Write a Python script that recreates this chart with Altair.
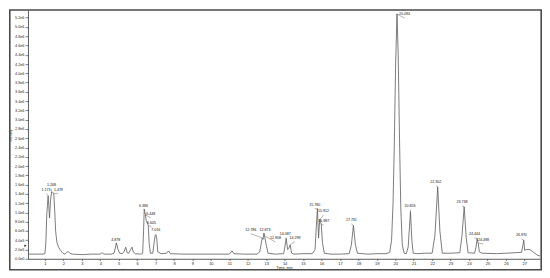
import altair as alt
import pandas as pd

# ---- trace (time in min, intensity in millions of counts) ----
trace_time = [0.1, 0.5, 0.9, 1.0, 1.05, 1.10, 1.173, 1.21, 1.25, 1.30, 1.36, 1.42, 1.479, 1.53, 1.58,
              1.65, 1.75, 1.85, 1.95, 2.05, 2.15, 2.25, 2.35, 2.5, 3.0, 3.5, 4.0, 4.1, 4.2, 4.6,
              4.75, 4.878, 4.95, 5.05, 5.2, 5.3, 5.38, 5.46, 5.55, 5.65, 5.72, 5.8, 5.9, 6.2, 6.3,
              6.35, 6.386, 6.448, 6.5, 6.56, 6.605, 6.65, 6.72, 6.85, 6.93, 6.98, 7.016, 7.06, 7.12,
              7.3, 7.6, 7.7, 7.8, 8.5, 9.5, 10.5, 11.0, 11.15, 11.25, 11.8, 12.5, 12.65, 12.786,
              12.83, 12.873, 12.908, 13.0, 13.1, 13.5, 13.95, 14.03, 14.087, 14.16, 14.22, 14.299,
              14.38, 14.5, 15.0, 15.5, 15.65, 15.72, 15.78, 15.84, 15.88, 15.912, 15.95, 15.987,
              16.05, 16.15, 16.5, 17.0, 17.5, 17.62, 17.731, 17.84, 17.95, 18.5, 19.0, 19.5, 19.7,
              19.8, 19.88, 19.95, 20.02, 20.094, 20.16, 20.23, 20.3, 20.38, 20.48, 20.6, 20.7,
              20.826, 20.9, 20.97, 21.2, 21.6, 22.0, 22.15, 22.302, 22.42, 22.55, 23.0, 23.5,
              23.62, 23.738, 23.85, 23.95, 24.3, 24.38, 24.444, 24.47, 24.498, 24.56, 24.7, 25.5,
              26.0, 26.5, 26.85, 26.92, 26.97, 27.02, 27.1, 27.3, 27.5, 27.7, 27.85]
trace_intensity = [0.10, 0.10, 0.10, 0.11, 0.35, 0.95, 1.36, 1.15, 0.88, 1.25, 1.44, 1.43, 1.41, 1.05, 0.60,
                   0.35, 0.24, 0.18, 0.13, 0.10, 0.12, 0.16, 0.12, 0.10, 0.09, 0.10, 0.10, 0.13, 0.10, 0.10,
                   0.12, 0.34, 0.22, 0.12, 0.11, 0.16, 0.25, 0.13, 0.12, 0.20, 0.25, 0.14, 0.11, 0.10, 0.12,
                   0.60, 1.07, 0.95, 0.82, 0.76, 0.72, 0.35, 0.12, 0.12, 0.38, 0.50, 0.52, 0.45, 0.15,
                   0.11, 0.12, 0.17, 0.11, 0.10, 0.10, 0.10, 0.10, 0.17, 0.11, 0.10, 0.10, 0.15, 0.45,
                   0.42, 0.55, 0.50, 0.30, 0.12, 0.10, 0.11, 0.30, 0.44, 0.20, 0.22, 0.30,
                   0.12, 0.10, 0.11, 0.11, 0.20, 0.70, 1.08, 0.45, 0.70, 0.85, 0.80, 0.74,
                   0.35, 0.12, 0.10, 0.10, 0.11, 0.30, 0.72, 0.30, 0.12, 0.10, 0.11, 0.11, 0.14,
                   0.40, 1.20, 2.50, 4.20, 5.28, 4.40, 2.60, 1.10, 0.30, 0.12, 0.11, 0.25,
                   1.02, 0.40, 0.12, 0.11, 0.12, 0.12, 0.50, 1.55, 0.60, 0.12, 0.12, 0.13,
                   0.50, 1.12, 0.45, 0.13, 0.12, 0.25, 0.44, 0.36, 0.34, 0.15, 0.12, 0.11,
                   0.12, 0.13, 0.14, 0.28, 0.40, 0.18, 0.20, 0.20, 0.14, 0.08, 0.06]

# ---- peak annotations ----
peak_labels = ["1.173", "1.268", "1.479", "4.878", "6.386", "6.448", "6.605", "7.016",
               "12.786", "12.873", "12.908", "14.087", "14.299", "15.780", "15.912", "15.987",
               "17.731", "20.094", "20.826", "22.302", "23.738", "24.444", "24.498", "26.970"]
peak_time = [1.173, 1.36, 1.479, 4.878, 6.386, 6.448, 6.605, 7.016,
             12.786, 12.873, 12.908, 14.087, 14.299, 15.78, 15.912, 15.987,
             17.731, 20.094, 20.826, 22.302, 23.738, 24.444, 24.498, 26.97]
peak_height = [1.36, 1.44, 1.41, 0.34, 1.07, 0.95, 0.72, 0.52,
               0.45, 0.55, 0.50, 0.44, 0.30, 1.08, 0.85, 0.74,
               0.72, 5.28, 1.02, 1.55, 1.12, 0.44, 0.34, 0.40]
label_time = [1.06, 1.36, 1.73, 4.84, 6.35, 6.74, 6.78, 7.01,
              12.16, 12.93, 13.5, 14.03, 14.56, 15.63, 16.11, 16.12,
              17.62, 20.5, 20.8, 22.2, 23.62, 24.3, 24.78, 26.84]
label_height = [1.46, 1.55, 1.46, 0.38, 1.11, 0.93, 0.74, 0.58,
                0.59, 0.59, 0.41, 0.50, 0.42, 1.13, 0.99, 0.78,
                0.80, 5.24, 1.11, 1.63, 1.19, 0.50, 0.37, 0.48]

y_ticks = [round(i * 0.2e6) for i in range(27)]
x_ticks = list(range(1, 28))

trace = pd.DataFrame({"t": trace_time, "i": [v * 1e6 for v in trace_intensity]})
peaks = pd.DataFrame({
    "label": peak_labels,
    "t": peak_time,
    "i": [v * 1e6 for v in peak_height],
    "lt": label_time,
    "li": [(v - 0.05) * 1e6 for v in label_height],
    "ly": [v * 1e6 for v in label_height],
})

FONT = "Liberation Sans"
W, H = 513, 249

xs = alt.Scale(domain=[0.08, 27.85], nice=False, zero=False)
ys = alt.Scale(domain=[0, 5.36e6], nice=False)

x_axis = alt.Axis(values=x_ticks, title="Time, min", format="d", grid=False,
                  labelOverlap=False, labelBound=False, labelFlush=False,
                  labelFontSize=4, titleFontSize=3.8, titleFontWeight="normal",
                  labelFont=FONT, titleFont=FONT, tickSize=1.8, labelPadding=0.8,
                  titlePadding=0.3, domainColor="#333", tickColor="#333",
                  labelColor="#222", titleColor="#222", domainWidth=0.8, tickWidth=0.6)
y_axis = alt.Axis(values=y_ticks, title="Intensity", grid=False,
                  labelOverlap=False, labelBound=False, labelFlush=False,
                  labelExpr="replace(format(datum.value, '.1e'), 'e+', 'e')",
                  labelFontSize=3.8, titleFontSize=3.2, titleFontWeight="normal",
                  labelFont=FONT, titleFont=FONT, tickSize=3, labelPadding=1,
                  domainColor="#333", tickColor="#333", labelColor="#222",
                  titleColor="#222", titleX=-15.5, titleY=125, titleAngle=-90,
                  domainWidth=0.8, tickWidth=0.6)

line = alt.Chart(trace).mark_line(color="#5c5c5c", strokeWidth=0.8).encode(
    x=alt.X("t:Q", scale=xs, axis=x_axis),
    y=alt.Y("i:Q", scale=ys, axis=y_axis),
)

leaders = alt.Chart(peaks).mark_rule(color="#444", strokeWidth=0.4).encode(
    x=alt.X("t:Q", scale=xs, axis=x_axis), y=alt.Y("i:Q", scale=ys, axis=y_axis),
    x2="lt:Q", y2="li:Q",
)

texts = alt.Chart(peaks).mark_text(fontSize=3.6, font=FONT, color="#111",
                                   baseline="bottom", dy=0.5).encode(
    x=alt.X("lt:Q", scale=xs, axis=x_axis), y=alt.Y("ly:Q", scale=ys, axis=y_axis),
    text="label:N",
)

marker = alt.Chart(pd.DataFrame({"i": [0.28e6]})).mark_point(
    shape="triangle-right", filled=True, color="#111", size=6, opacity=1).encode(
    x=alt.value(-2.5), y=alt.Y("i:Q", scale=ys, axis=y_axis),
)

frame = alt.Chart(pd.DataFrame({"k": [0]})).mark_rect(
    fillOpacity=0, stroke="#4a4a4a", strokeWidth=1.6).encode(
    x=alt.value(-18.2), x2=alt.value(W + 1.2), y=alt.value(-0.3), y2=alt.value(H + 11),
)

chart = alt.layer(line, frame, leaders, texts, marker).properties(
    width=W, height=H, padding=0, background="white"
).configure_view(stroke=None)

chart.save("out.html", embed_options={"renderer": "svg", "actions": False})
